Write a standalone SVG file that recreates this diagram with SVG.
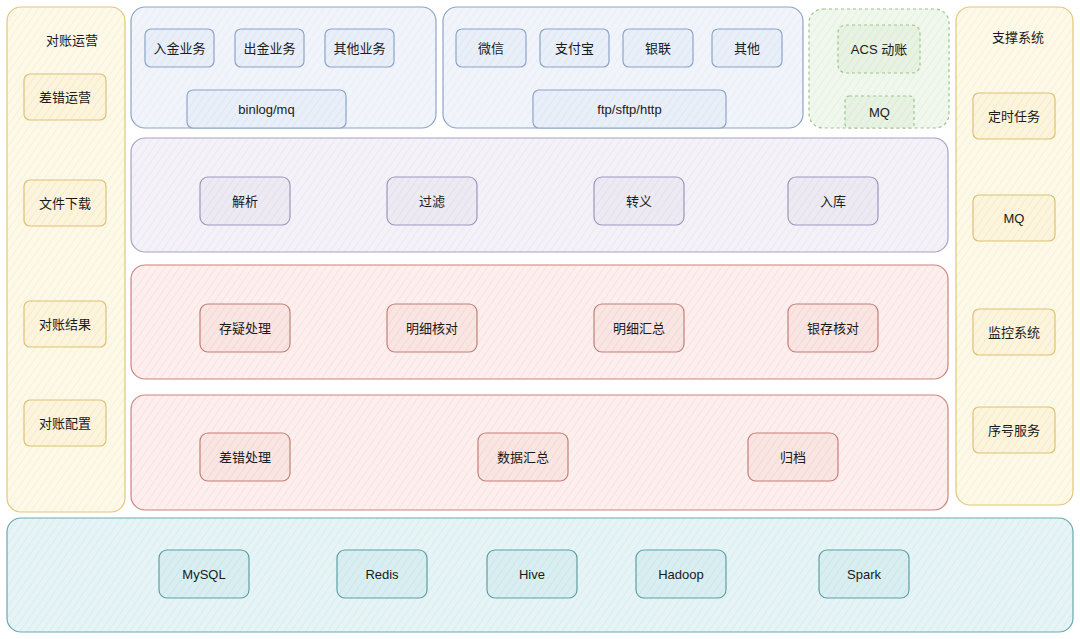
<svg xmlns="http://www.w3.org/2000/svg" width="1080" height="639" viewBox="0 0 1080 639">
<defs>
<pattern id="hY" width="6" height="6" patternUnits="userSpaceOnUse" patternTransform="rotate(35)"><rect width="6" height="6" fill="#fdf9e9"/><line x1="0" y1="0" x2="0" y2="6" stroke="#f3e9c6" stroke-width="1"/></pattern>
<pattern id="hYn" width="6" height="6" patternUnits="userSpaceOnUse" patternTransform="rotate(35)"><rect width="6" height="6" fill="#fcf4dc"/><line x1="0" y1="0" x2="0" y2="6" stroke="#f0e2b6" stroke-width="1"/></pattern>
<pattern id="hB" width="6" height="6" patternUnits="userSpaceOnUse" patternTransform="rotate(35)"><rect width="6" height="6" fill="#f1f5fb"/><line x1="0" y1="0" x2="0" y2="6" stroke="#dfe7f3" stroke-width="1"/></pattern>
<pattern id="hBn" width="6" height="6" patternUnits="userSpaceOnUse" patternTransform="rotate(35)"><rect width="6" height="6" fill="#e9eff8"/><line x1="0" y1="0" x2="0" y2="6" stroke="#d6e0f0" stroke-width="1"/></pattern>
<pattern id="hP" width="6" height="6" patternUnits="userSpaceOnUse" patternTransform="rotate(35)"><rect width="6" height="6" fill="#f4f2f8"/><line x1="0" y1="0" x2="0" y2="6" stroke="#e3dfee" stroke-width="1"/></pattern>
<pattern id="hPn" width="6" height="6" patternUnits="userSpaceOnUse" patternTransform="rotate(35)"><rect width="6" height="6" fill="#edeaf4"/><line x1="0" y1="0" x2="0" y2="6" stroke="#dbd6e9" stroke-width="1"/></pattern>
<pattern id="hR" width="6" height="6" patternUnits="userSpaceOnUse" patternTransform="rotate(35)"><rect width="6" height="6" fill="#fcefed"/><line x1="0" y1="0" x2="0" y2="6" stroke="#f3d8d5" stroke-width="1"/></pattern>
<pattern id="hRn" width="6" height="6" patternUnits="userSpaceOnUse" patternTransform="rotate(35)"><rect width="6" height="6" fill="#f9e5e2"/><line x1="0" y1="0" x2="0" y2="6" stroke="#efcdc8" stroke-width="1"/></pattern>
<pattern id="hG" width="6" height="6" patternUnits="userSpaceOnUse" patternTransform="rotate(35)"><rect width="6" height="6" fill="#f0f7ed"/><line x1="0" y1="0" x2="0" y2="6" stroke="#dcebd5" stroke-width="1"/></pattern>
<pattern id="hGn" width="6" height="6" patternUnits="userSpaceOnUse" patternTransform="rotate(35)"><rect width="6" height="6" fill="#e7f2e2"/><line x1="0" y1="0" x2="0" y2="6" stroke="#d2e6c8" stroke-width="1"/></pattern>
<pattern id="hT" width="6" height="6" patternUnits="userSpaceOnUse" patternTransform="rotate(35)"><rect width="6" height="6" fill="#e6f4f6"/><line x1="0" y1="0" x2="0" y2="6" stroke="#cde8ec" stroke-width="1"/></pattern>
<pattern id="hTn" width="6" height="6" patternUnits="userSpaceOnUse" patternTransform="rotate(35)"><rect width="6" height="6" fill="#d8eef1"/><line x1="0" y1="0" x2="0" y2="6" stroke="#c1e1e6" stroke-width="1"/></pattern>
</defs>
<style>
text{font-family:"Liberation Sans","Noto Sans CJK SC",sans-serif;font-size:13px;fill:#1a1a1a;text-anchor:middle;dominant-baseline:central}
.cy{fill:url(#hY);stroke:#e0c77a;stroke-width:1.2}
.ny{fill:url(#hYn);stroke:#dcc273;stroke-width:1.2}
.cb{fill:url(#hB);stroke:#8ea4c8;stroke-width:1.2}
.nb{fill:url(#hBn);stroke:#8ea4c8;stroke-width:1.2}
.cp{fill:url(#hP);stroke:#a6a2c4;stroke-width:1.2}
.np{fill:url(#hPn);stroke:#9c97bb;stroke-width:1.2}
.cr{fill:url(#hR);stroke:#cc847e;stroke-width:1.2}
.nr{fill:url(#hRn);stroke:#c47f78;stroke-width:1.2}
.cg{fill:url(#hG);stroke:#9cc58a;stroke-width:1.2;stroke-dasharray:3 3}
.ng{fill:url(#hGn);stroke:#9cc58a;stroke-width:1.2;stroke-dasharray:3 3}
.ct{fill:url(#hT);stroke:#6aa9ae;stroke-width:1.2}
.nt{fill:url(#hTn);stroke:#5f9ea3;stroke-width:1.2}
</style>

<g id="containers">
<g id="col-left"><rect class="cy" x="7" y="7" width="118" height="505" rx="14"/><text x="72" y="40">对账运营</text></g>
<g id="col-right"><rect class="cy" x="956" y="7" width="117" height="498" rx="14"/><text x="1018" y="37">支撑系统</text></g>
<g id="box-biz"><rect class="cb" x="131" y="7" width="305" height="121" rx="14"/></g>
<g id="box-channel"><rect class="cb" x="443" y="7" width="360" height="121" rx="14"/></g>
<g id="box-acs"><rect class="cg" x="809" y="9" width="140" height="119" rx="14"/></g>
<g id="box-parse"><rect class="cp" x="131" y="138" width="817" height="114" rx="14"/></g>
<g id="box-check"><rect class="cr" x="131" y="265" width="817" height="114" rx="14"/></g>
<g id="box-error"><rect class="cr" x="131" y="395" width="817" height="115" rx="14"/></g>
<g id="box-storage"><rect class="ct" x="7" y="518" width="1066" height="114" rx="14"/></g>
</g>

<g id="connectors"></g>

<g id="n-chacuoyunying"><rect class="ny" x="24" y="74" width="82" height="46" rx="6"/><text x="65" y="97">差错运营</text></g>
<g id="n-wenjianxiazai"><rect class="ny" x="24" y="180" width="82" height="46" rx="6"/><text x="65" y="203">文件下载</text></g>
<g id="n-duizhangjieguo"><rect class="ny" x="24" y="301" width="82" height="46" rx="6"/><text x="65" y="324">对账结果</text></g>
<g id="n-duizhangpeizhi"><rect class="ny" x="24" y="400" width="82" height="46" rx="6"/><text x="65" y="423">对账配置</text></g>

<g id="n-dingshi"><rect class="ny" x="973" y="93" width="82" height="46" rx="6"/><text x="1014" y="116">定时任务</text></g>
<g id="n-mq-right"><rect class="ny" x="973" y="195" width="82" height="46" rx="6"/><text x="1014" y="218">MQ</text></g>
<g id="n-jiankong"><rect class="ny" x="973" y="309" width="82" height="46" rx="6"/><text x="1014" y="332">监控系统</text></g>
<g id="n-xuhao"><rect class="ny" x="973" y="407" width="82" height="46" rx="6"/><text x="1014" y="430">序号服务</text></g>

<g id="n-rujin"><rect class="nb" x="145" y="29" width="69" height="38" rx="6"/><text x="179.5" y="48">入金业务</text></g>
<g id="n-chujin"><rect class="nb" x="235" y="29" width="69" height="38" rx="6"/><text x="269.5" y="48">出金业务</text></g>
<g id="n-qitayewu"><rect class="nb" x="325" y="29" width="69" height="38" rx="6"/><text x="359.5" y="48">其他业务</text></g>
<g id="n-binlog"><rect class="nb" x="187" y="90" width="159" height="38" rx="6"/><text x="266.5" y="109">binlog/mq</text></g>

<g id="n-weixin"><rect class="nb" x="456" y="29" width="70" height="38" rx="6"/><text x="491" y="48">微信</text></g>
<g id="n-zhifubao"><rect class="nb" x="540" y="29" width="69" height="38" rx="6"/><text x="574.5" y="48">支付宝</text></g>
<g id="n-yinlian"><rect class="nb" x="623" y="29" width="70" height="38" rx="6"/><text x="658" y="48">银联</text></g>
<g id="n-qita"><rect class="nb" x="712" y="29" width="70" height="38" rx="6"/><text x="747" y="48">其他</text></g>
<g id="n-ftp"><rect class="nb" x="533" y="90" width="193" height="38" rx="6"/><text x="629.5" y="109">ftp/sftp/http</text></g>

<g id="n-acs"><rect class="ng" x="838" y="25" width="82" height="48" rx="8"/><text x="879" y="49">ACS 动账</text></g>
<g id="n-mq-acs"><rect class="ng" x="845" y="96" width="69" height="32" rx="4"/><text x="879.5" y="112">MQ</text></g>

<g id="n-jiexi"><rect class="np" x="200" y="177" width="90" height="48" rx="8"/><text x="245" y="201">解析</text></g>
<g id="n-guolv"><rect class="np" x="387" y="177" width="90" height="48" rx="8"/><text x="432" y="201">过滤</text></g>
<g id="n-zhuanyi"><rect class="np" x="594" y="177" width="90" height="48" rx="8"/><text x="639" y="201">转义</text></g>
<g id="n-ruku"><rect class="np" x="788" y="177" width="90" height="48" rx="8"/><text x="833" y="201">入库</text></g>

<g id="n-cunyi"><rect class="nr" x="200" y="304" width="90" height="48" rx="8"/><text x="245" y="328">存疑处理</text></g>
<g id="n-mingxihedui"><rect class="nr" x="387" y="304" width="90" height="48" rx="8"/><text x="432" y="328">明细核对</text></g>
<g id="n-mingxihuizong"><rect class="nr" x="594" y="304" width="90" height="48" rx="8"/><text x="639" y="328">明细汇总</text></g>
<g id="n-yincun"><rect class="nr" x="788" y="304" width="90" height="48" rx="8"/><text x="833" y="328">银存核对</text></g>

<g id="n-chacuochuli"><rect class="nr" x="200" y="433" width="90" height="48" rx="8"/><text x="245" y="457">差错处理</text></g>
<g id="n-shujuhuizong"><rect class="nr" x="478" y="433" width="90" height="48" rx="8"/><text x="523" y="457">数据汇总</text></g>
<g id="n-guidang"><rect class="nr" x="748" y="433" width="90" height="48" rx="8"/><text x="793" y="457">归档</text></g>

<g id="n-mysql"><rect class="nt" x="159" y="550" width="90" height="48" rx="8"/><text x="204" y="574">MySQL</text></g>
<g id="n-redis"><rect class="nt" x="337" y="550" width="90" height="48" rx="8"/><text x="382" y="574">Redis</text></g>
<g id="n-hive"><rect class="nt" x="487" y="550" width="90" height="48" rx="8"/><text x="532" y="574">Hive</text></g>
<g id="n-hadoop"><rect class="nt" x="636" y="550" width="90" height="48" rx="8"/><text x="681" y="574">Hadoop</text></g>
<g id="n-spark"><rect class="nt" x="819" y="550" width="90" height="48" rx="8"/><text x="864" y="574">Spark</text></g>
</svg>
